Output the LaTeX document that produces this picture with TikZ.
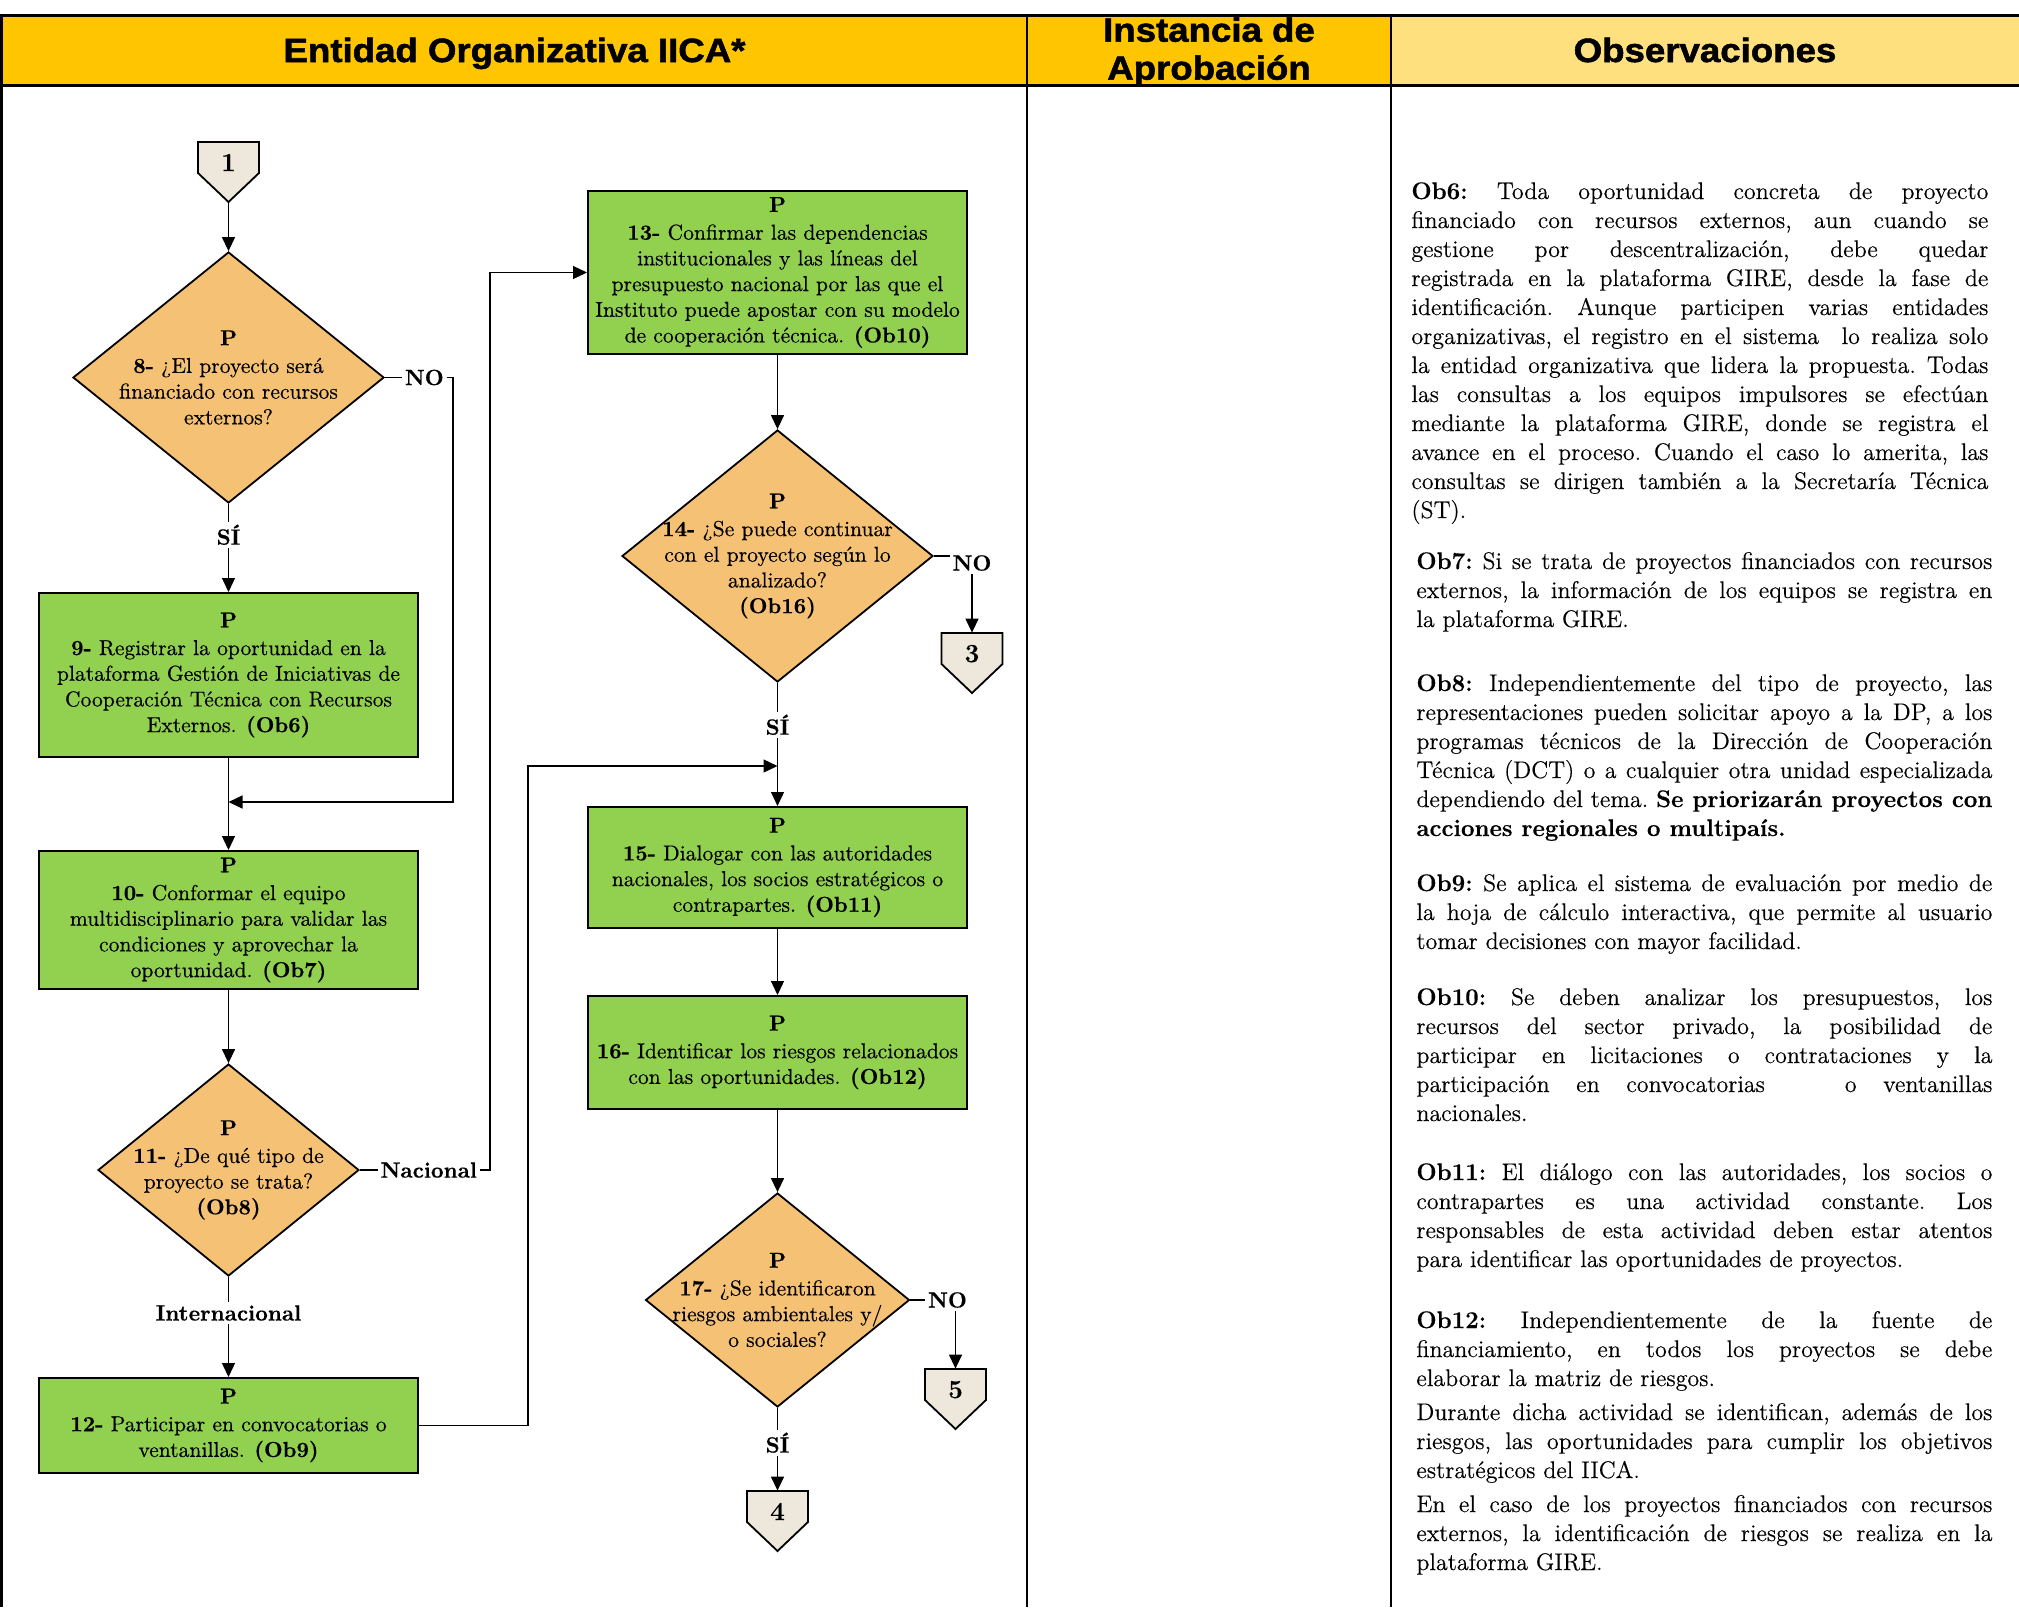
\documentclass[tikz,border=0pt]{standalone}
\usepackage{fontspec}
\setmainfont{Latin Modern Roman}[FakeBold=0.35]
\newfontfamily\hdrfont[FakeStretch=1.09,FakeBold=1.6]{Liberation Sans Bold}
\usetikzlibrary{arrows.meta,shapes.geometric,calc}
\definecolor{boxgreen}{HTML}{92D050}
\definecolor{diaorange}{HTML}{F5C174}
\definecolor{connfill}{HTML}{EDE7DC}
\definecolor{hdrgold}{HTML}{FFC600}
\definecolor{hdrlight}{HTML}{FFE07F}
\newcommand\bxfont{\fontsize{10.8}{12.85}\selectfont}
\newcommand\obsfont{\fontsize{12}{14.5}\selectfont\frenchspacing}
\newcommand\jl[1]{\makebox[\hsize][s]{\spaceskip=0pt\xspaceskip=0pt #1}\\}
\tikzset{
  box/.style={rectangle, draw=black, line width=1pt, fill=boxgreen, inner sep=0pt, align=center, font=\bxfont},
  dia/.style={diamond, draw=black, line width=0.9pt, fill=diaorange, inner sep=0pt},
  dtext/.style={align=center, font=\bxfont, inner sep=0pt},
  arr/.style={line width=0.65pt, -{Triangle[length=7pt,width=6.5pt]}},
  lbl/.style={font=\fontsize{11}{13}\selectfont\bfseries, fill=white, inner sep=1.5pt},
  connshape/.style={draw=black, line width=0.9pt, fill=connfill, line join=miter},
  connnode/.style={rectangle, inner sep=0pt, minimum width=30.5pt, minimum height=30pt, text height=8pt, text depth=9pt, font=\fontsize{13}{15}\selectfont\bfseries},
  hdr/.style={font=\hdrfont\fontsize{16.8}{19}\selectfont, inner sep=0pt},
  obs/.style={anchor=base west, text width=288pt, align=justify, inner sep=0pt, font=\obsfont},
  frame/.style={line width=1pt},
  thickframe/.style={line width=1.5pt}
}
\newcommand\offpage[4]{%
  \filldraw[connshape] ({#2-30.5},#3) -- ({#2+30.5},#3) -- ({#2+30.5},{#3+31}) -- (#2,{#3+60}) -- ({#2-30.5},{#3+31}) -- cycle;
  \node[connnode] (#1) at (#2,{#3+30}) {#4};
}
\begin{document}
\begin{tikzpicture}[x=0.5pt,y=-0.5pt]
\useasboundingbox (0,0) rectangle (2019,1607);
% header
\fill[hdrgold] (0,15) rectangle (1391,85);
\fill[hdrlight] (1391,15) rectangle (2019,85);
\draw[thickframe] (0,15) -- (2019,15);
\draw[thickframe] (0,85) -- (2019,85);
\draw[thickframe] (1.5,15) -- (1.5,1607);
\draw[frame] (1027,15) -- (1027,1607);
\draw[frame] (1391,15) -- (1391,1607);
\node[hdr, anchor=base] (h1) at (514.5,62) {Entidad Organizativa IICA*};
\node[hdr, align=center] (h2) at (1209,52) {Instancia de\\Aprobación};
\node[hdr, anchor=base] (h3) at (1705,62) {Observaciones};

% off-page connectors
\offpage{c1}{228.5}{142}{1}
\offpage{c3}{972}{633}{3}
\offpage{c5}{955.5}{1369}{5}
\offpage{c4}{777.5}{1491}{4}

% left column
\node[dia, minimum width=155.5pt, minimum height=125.5pt,
  label={[dtext]center:{\textbf{P}\\[1pt]\textbf{8-} ¿El proyecto será\\financiado con recursos\\externos?}}] (d8) at (228.5,377.5) {};
\node[box, minimum width=189.5pt, minimum height=82pt] (b9) at (228.5,675)
  {\textbf{P}\\[1pt]\textbf{9-} Registrar la oportunidad en la\\plataforma Gestión de Iniciativas de\\Cooperación Técnica con Recursos\\Externos. \textbf{(Ob6)}};
\node[box, minimum width=189.5pt, minimum height=69pt] (b10) at (228.5,920)
  {\textbf{P}\\[1pt]\textbf{10-} Conformar el equipo\\multidisciplinario para validar las\\condiciones y aprovechar la\\oportunidad. \textbf{(Ob7)}};
\node[dia, minimum width=130.5pt, minimum height=106pt,
  label={[dtext]center:{\textbf{P}\\[1pt]\textbf{11-} ¿De qué tipo de\\proyecto se trata?\\\textbf{(Ob8)}}}] (d11) at (228.5,1170) {};
\node[box, minimum width=189.5pt, minimum height=47.5pt] (b12) at (228.5,1425.5)
  {\textbf{P}\\[1pt]\textbf{12-} Participar en convocatorias o\\ventanillas. \textbf{(Ob9)}};

% middle column
\node[box, minimum width=189.5pt, minimum height=81.5pt] (b13) at (777.5,272.5)
  {\textbf{P}\\[1pt]\textbf{13-} Confirmar las dependencias\\institucionales y las líneas del\\presupuesto nacional por las que el\\Instituto puede apostar con su modelo\\de cooperación técnica. \textbf{(Ob10)}};
\node[dia, minimum width=155.5pt, minimum height=126pt,
  label={[dtext]center:{\textbf{P}\\[1pt]\textbf{14-} ¿Se puede continuar\\con el proyecto según lo\\analizado?\\\textbf{(Ob16)}}}] (d14) at (777.5,556) {};
\node[box, minimum width=189.5pt, minimum height=60.5pt] (b15) at (777.5,867.5)
  {\textbf{P}\\[1pt]\textbf{15-} Dialogar con las autoridades\\nacionales, los socios estratégicos o\\contrapartes. \textbf{(Ob11)}};
\node[box, minimum width=189.5pt, minimum height=56.5pt] (b16) at (777.5,1052.5)
  {\textbf{P}\\[1pt]\textbf{16-} Identificar los riesgos relacionados\\con las oportunidades. \textbf{(Ob12)}};
\node[dia, minimum width=132pt, minimum height=107pt,
  label={[dtext]center:{\textbf{P}\\[1pt]\textbf{17-} ¿Se identificaron\\riesgos ambientales y/\\o sociales?}}] (d17) at (777.5,1300) {};

\coordinate (m1) at (228.5,802);
\coordinate (m2) at (777.5,766);

% connectors
\draw[arr] (c1.south) -- (d8.north);
\draw[arr] (d8.south) -- node[lbl,pos=0.35]{SÍ} (b9.north);
\draw[arr] (d8.east) -- node[lbl,pos=0.58]{NO} ++(68,0) |- (m1);
\draw[arr] (b9.south) -- (b10.north);
\draw[arr] (b10.south) -- (d11.north);
\draw[arr] (d11.south) -- node[lbl,pos=0.36]{Internacional} (b12.north);
\draw[arr] (d11.east) -- node[lbl,pos=0.53]{Nacional} ++(130,0) |- (b13.west);
\draw[arr] (b12.east) -- ++(109,0) |- (m2);
\draw[arr] (b13.south) -- (d14.north);
\draw[arr] (d14.south) -- node[lbl,pos=0.34]{SÍ} (b15.north);
\draw[arr] (d14.east) -| node[lbl,pos=0.5,yshift=-3.5pt]{NO} (c3.north);
\draw[arr] (b15.south) -- (b16.north);
\draw[arr] (b16.south) -- (d17.north);
\draw[arr] (d17.east) -| node[lbl,pos=0.5,xshift=-4pt]{NO} (c5.north);
\draw[arr] (d17.south) -- node[lbl,pos=0.42]{SÍ} (c4.north);

% observations
\node[obs, text width=288.5pt] (ob6) at (1411,199) {%
\jl{\textbf{Ob6:} Toda oportunidad concreta de proyecto}
\jl{financiado con recursos externos, aun cuando se}
\jl{gestione por descentralización, debe quedar}
\jl{registrada en la plataforma GIRE, desde la fase de}
\jl{identificación. Aunque participen varias entidades}
\jl{organizativas, el registro en el sistema \ lo realiza solo}
\jl{la entidad organizativa que lidera la propuesta. Todas}
\jl{las consultas a los equipos impulsores se efectúan}
\jl{mediante la plataforma GIRE, donde se registra el}
\jl{avance en el proceso. Cuando el caso lo amerita, las}
\jl{consultas se dirigen también a la Secretaría Técnica}
(ST).};
\node[obs] (ob7) at (1416,569) {%
\jl{\textbf{Ob7:} Si se trata de proyectos financiados con recursos}
\jl{externos, la información de los equipos se registra en}
la plataforma GIRE.};
\node[obs] (ob8) at (1416,691) {%
\jl{\textbf{Ob8:} Independientemente del tipo de proyecto, las}
\jl{representaciones pueden solicitar apoyo a la DP, a los}
\jl{programas técnicos de la Dirección de Cooperación}
\jl{Técnica (DCT) o a cualquier otra unidad especializada}
\jl{dependiendo del tema. \textbf{Se priorizarán proyectos con}}
\textbf{acciones regionales o multipaís.}};
\node[obs] (ob9) at (1416,891) {%
\jl{\textbf{Ob9:} Se aplica el sistema de evaluación por medio de}
\jl{la hoja de cálculo interactiva, que permite al usuario}
tomar decisiones con mayor facilidad.};
\node[obs] (ob10) at (1416,1005) {%
\jl{\textbf{Ob10:} Se deben analizar los presupuestos, los}
\jl{recursos del sector privado, la posibilidad de}
\jl{participar en licitaciones o contrataciones y la}
\jl{participación en convocatorias \ \ o ventanillas}
nacionales.};
\node[obs] (ob11) at (1416,1180) {%
\jl{\textbf{Ob11:} El diálogo con las autoridades, los socios o}
\jl{contrapartes es una actividad constante. Los}
\jl{responsables de esta actividad deben estar atentos}
para identificar las oportunidades de proyectos.};
\node[obs] (ob12) at (1416,1328) {%
\jl{\textbf{Ob12:} Independientemente de la fuente de}
\jl{financiamiento, en todos los proyectos se debe}
elaborar la matriz de riesgos.};
\node[obs] (ob12b) at (1416,1420) {%
\jl{Durante dicha actividad se identifican, además de los}
\jl{riesgos, las oportunidades para cumplir los objetivos}
estratégicos del IICA.};
\node[obs] (ob12c) at (1416,1512) {%
\jl{En el caso de los proyectos financiados con recursos}
\jl{externos, la identificación de riesgos se realiza en la}
plataforma GIRE.};
\end{tikzpicture}
\end{document}
